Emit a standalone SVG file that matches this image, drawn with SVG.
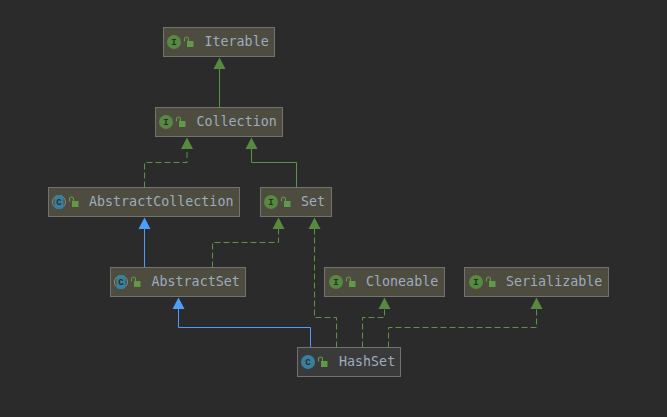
<svg xmlns="http://www.w3.org/2000/svg" width="667" height="417" viewBox="0 0 667 417">
<defs>
<g id="lock"><path d="M-4.5 -0.5V-3a2 2 0 0 1 4 0V-1" fill="none" stroke="#5f9a44" stroke-width="1.2"/><rect x="-2" y="-1" width="6.500" height="6" fill="#5f9a44"/></g>
</defs>
<style>
.n{fill:#4e4b3f;stroke:#72726e;stroke-width:1}
.h{fill:#3a3a3a;stroke:#72726e;stroke-width:1}
.t{font:13.33px "DejaVu Sans Mono","Liberation Mono",monospace;fill:#9dadbf}
.ii{fill:#558a3f}.ic{fill:#35819f}
.l{font:bold 9px "Liberation Mono",monospace;text-anchor:middle;fill:#2b2b2b}
.g{fill:none;stroke:#5a9445;stroke-width:1}
.d{stroke-dasharray:6 3}
.b{fill:none;stroke:#4a9eff;stroke-width:1}
.hg{fill:#558a3f}.hb{fill:#4a9eff}
.s{fill:none;stroke:#8a8a88;stroke-width:1}
</style>
<rect width="667" height="417" fill="#2b2b2b"/>
<g id="connectors">
<path class="g" d="M219.5 107.5V68"/><path class="hg" d="M219.5 57.5l6 11.5h-12z"/>
<path class="g d" d="M144.5 187.5V162.5H187V148"/><path class="hg" d="M187 137.5l6 11.5h-12z"/>
<path class="g" d="M296.5 187.5V162.5H251.5V148"/><path class="hg" d="M251.5 137.5l6 11.5h-12z"/>
<path class="b" d="M144.5 267.5V228"/><path class="hb" d="M144.5 217.5l6 11.5h-12z"/>
<path class="g d" d="M212.5 267.5V242.5H278.5V228"/><path class="hg" d="M278.5 217.5l6 11.5h-12z"/>
<path class="g d" d="M336.5 347.5V317.5H314.5V228"/><path class="hg" d="M314.5 217.5l6 11.5h-12z"/>
<path class="g d" d="M362.5 347.5V317.5H384.5V308"/><path class="hg" d="M384.5 297.5l6 11.5h-12z"/>
<path class="g d" d="M388.5 347.5V327.5H536.5V308"/><path class="hg" d="M536.5 297.5l6 11.5h-12z"/>
<path class="b" d="M310.5 347.5V327.5H178.5V308"/><path class="hb" d="M178.5 297.5l6 11.5h-12z"/>
</g>
<g id="Iterable"><rect class="n" x="163.5" y="27.5" width="111" height="29"/><circle class="ii" cx="174" cy="42" r="7"/><text class="l" x="174" y="45">I</text><use href="#lock" x="189" y="42"/><text class="t" x="204.5" y="46">Iterable</text></g>
<g id="Collection"><rect class="n" x="155.5" y="107.5" width="127" height="29"/><circle class="ii" cx="166" cy="122" r="7"/><text class="l" x="166" y="125">I</text><use href="#lock" x="181" y="122"/><text class="t" x="196.5" y="126">Collection</text></g>
<g id="AbstractCollection"><rect class="n" x="48.5" y="187.5" width="191" height="29"/><circle class="s" cx="59" cy="202" r="6.5"/><rect class="ic" x="54.5" y="195" width="9" height="14" rx="3"/><text class="l" x="59" y="205">C</text><use href="#lock" x="74" y="202"/><text class="t" x="89" y="206">AbstractCollection</text></g>
<g id="Set"><rect class="n" x="260.5" y="187.5" width="71" height="29"/><circle class="ii" cx="271" cy="202" r="7"/><text class="l" x="271" y="205">I</text><use href="#lock" x="286" y="202"/><text class="t" x="301" y="206">Set</text></g>
<g id="AbstractSet"><rect class="n" x="110.5" y="267.5" width="135" height="29"/><circle class="s" cx="121" cy="282" r="6.5"/><rect class="ic" x="116.5" y="275" width="9" height="14" rx="3"/><text class="l" x="121" y="285">C</text><use href="#lock" x="136" y="282"/><text class="t" x="151.5" y="286">AbstractSet</text></g>
<g id="Cloneable"><rect class="n" x="324.5" y="267.5" width="120" height="29"/><circle class="ii" cx="336" cy="282" r="7"/><text class="l" x="336" y="285">I</text><use href="#lock" x="351" y="282"/><text class="t" x="366" y="286">Cloneable</text></g>
<g id="Serializable"><rect class="n" x="464.5" y="267.5" width="144" height="29"/><circle class="ii" cx="476" cy="282" r="7"/><text class="l" x="476" y="285">I</text><use href="#lock" x="491" y="282"/><text class="t" x="506" y="286">Serializable</text></g>
<g id="HashSet"><rect class="h" x="297.5" y="347.5" width="103" height="29"/><circle class="ic" cx="308" cy="362" r="7"/><text class="l" x="308" y="365">C</text><use href="#lock" x="323" y="362"/><text class="t" x="339" y="366">HashSet</text></g>
</svg>
